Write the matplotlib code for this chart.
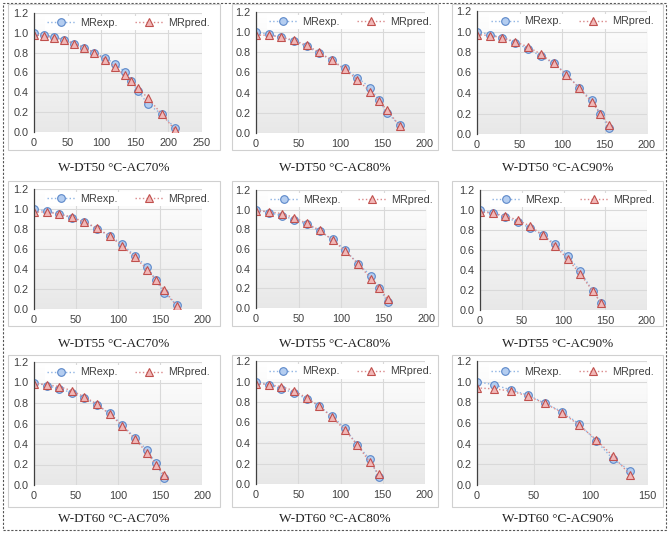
import numpy as np
import matplotlib
matplotlib.use("Agg")
import matplotlib.pyplot as plt
from matplotlib.patches import Rectangle

W, H = 669, 533
fig = plt.figure(figsize=(W/100, H/100), dpi=100)

# ---- data ----
titles = ["W-DT50 °C-AC70%", "W-DT50 °C-AC80%", "W-DT50 °C-AC90%",
          "W-DT55 °C-AC70%", "W-DT55 °C-AC80%", "W-DT55 °C-AC90%",
          "W-DT60 °C-AC70%", "W-DT60 °C-AC80%", "W-DT60 °C-AC90%"]

x1 = [0, 15, 30, 45, 60, 75, 90, 105, 120, 135, 145, 155, 170, 190, 210]
exp1 = [1.00, 0.98, 0.96, 0.93, 0.89, 0.85, 0.80, 0.75, 0.69, 0.61, 0.51, 0.41, 0.28, 0.18, 0.04]
pred1 = [0.98, 0.97, 0.95, 0.93, 0.89, 0.85, 0.80, 0.73, 0.66, 0.57, 0.51, 0.44, 0.34, 0.18, 0.02]

x2 = [0, 15, 30, 45, 60, 75, 90, 105, 120, 135, 145, 155, 170]
exp2 = [1.00, 0.98, 0.95, 0.91, 0.86, 0.79, 0.72, 0.64, 0.55, 0.45, 0.33, 0.20, 0.08]
pred2 = [0.97, 0.97, 0.95, 0.92, 0.87, 0.80, 0.72, 0.63, 0.53, 0.41, 0.32, 0.23, 0.07]

x3 = [0, 15, 30, 45, 60, 75, 90, 105, 120, 135, 145, 155]
exp3 = [1.00, 0.97, 0.94, 0.89, 0.83, 0.76, 0.69, 0.59, 0.45, 0.33, 0.20, 0.06]
pred3 = [0.97, 0.96, 0.94, 0.90, 0.85, 0.78, 0.69, 0.58, 0.45, 0.31, 0.20, 0.09]

x4 = [0, 15, 30, 45, 60, 75, 90, 105, 120, 135, 145, 155, 170]
exp4 = [1.00, 0.98, 0.95, 0.91, 0.87, 0.80, 0.73, 0.65, 0.53, 0.42, 0.29, 0.16, 0.04]
pred4 = [0.97, 0.97, 0.95, 0.92, 0.87, 0.81, 0.73, 0.63, 0.52, 0.39, 0.29, 0.19, 0.03]

x5 = [0, 15, 30, 45, 60, 75, 90, 105, 120, 135, 145, 155]
exp5 = [1.00, 0.97, 0.94, 0.90, 0.85, 0.78, 0.70, 0.59, 0.45, 0.33, 0.20, 0.06]
pred5 = [0.99, 0.98, 0.96, 0.92, 0.86, 0.79, 0.69, 0.58, 0.45, 0.30, 0.20, 0.09]

x6 = [0, 15, 30, 45, 60, 75, 90, 105, 120, 135, 145]
exp6 = [1.00, 0.97, 0.93, 0.88, 0.82, 0.75, 0.66, 0.54, 0.39, 0.19, 0.07]
pred6 = [0.98, 0.97, 0.94, 0.90, 0.84, 0.75, 0.64, 0.51, 0.36, 0.19, 0.07]

x7 = [0, 15, 30, 45, 60, 75, 90, 105, 120, 135, 145, 155]
exp7 = [1.00, 0.97, 0.94, 0.90, 0.85, 0.78, 0.70, 0.59, 0.46, 0.34, 0.21, 0.07]
pred7 = [0.99, 0.98, 0.96, 0.92, 0.86, 0.79, 0.69, 0.58, 0.45, 0.31, 0.20, 0.10]

x8 = [0, 15, 30, 45, 60, 75, 90, 105, 120, 135, 145]
exp8 = [1.00, 0.97, 0.93, 0.89, 0.83, 0.76, 0.66, 0.55, 0.38, 0.24, 0.07]
pred8 = [0.98, 0.97, 0.95, 0.91, 0.84, 0.76, 0.65, 0.53, 0.38, 0.21, 0.10]

x9 = [0, 15, 30, 45, 60, 75, 90, 105, 120, 135]
exp9 = [1.00, 0.97, 0.92, 0.87, 0.79, 0.71, 0.59, 0.43, 0.25, 0.14]
pred9 = [0.94, 0.93, 0.91, 0.86, 0.79, 0.70, 0.58, 0.44, 0.28, 0.10]

xs = [x1, x2, x3, x4, x5, x6, x7, x8, x9]
exps = [exp1, exp2, exp3, exp4, exp5, exp6, exp7, exp8, exp9]
preds = [pred1, pred2, pred3, pred4, pred5, pred6, pred7, pred8, pred9]
xmaxs = [250, 200, 200, 200, 200, 200, 200, 200, 150]
xsteps = [50, 50, 50, 50, 50, 50, 50, 50, 50]

# ---- layout (pixel coords, top-left origin) ----
areas = [(34, 202, 13, 132), (256, 425, 12, 133), (477, 647, 11, 134),
         (34, 202, 189, 309), (256, 426, 190, 308), (480, 647, 190, 310),
         (34, 202, 362, 485), (256, 425, 361, 484), (477, 647, 361, 485)]
cols_box = [(8, 220), (232, 438), (452, 663)]
rows_box = [(4, 150), (181, 326), (355, 507)]
caption_y = [168, 344, 519]

def fx(px):
    return px / W

def fy(py):
    return 1 - py / H

# outer dashed border
fig.patches.append(Rectangle((fx(3), fy(530)), fx(663), (527) / H, transform=fig.transFigure,
                             fill=False, edgecolor="#555555", linestyle=(0, (2, 1.5)),
                             linewidth=0.8, zorder=-2))

grad = np.linspace(1.0, 0.91, 100).reshape(-1, 1)
bg = np.dstack([grad, grad, grad])

for i in range(9):
    r, c = divmod(i, 3)
    bx0, bx1 = cols_box[c]
    by0, by1 = rows_box[r]
    fig.patches.append(Rectangle((fx(bx0), fy(by1)), (bx1 - bx0) / W, (by1 - by0) / H,
                                 transform=fig.transFigure, fill=False,
                                 edgecolor="#d0d0d0", linewidth=0.8, zorder=-1))
    l, rr, t, b = areas[i]
    ax = fig.add_axes([fx(l), fy(b), (rr - l) / W, (b - t) / H])
    ax.set_zorder(1)
    xmax = xmaxs[i]
    ax.imshow(bg, extent=[0, xmax, 0, 1.2], aspect="auto", origin="upper",
              zorder=0, interpolation="bilinear")
    ax.set_xlim(0, xmax)
    ax.set_ylim(0, 1.2)
    ax.set_xticks(np.arange(0, xmax + 1, xsteps[i]))
    yt = np.round(np.arange(0, 1.21, 0.2), 1)
    ax.set_yticks(yt)
    ax.set_yticklabels([f"{v:.1f}" for v in yt])
    ax.grid(True, color="#d9d9d9", linewidth=0.8, zorder=1)
    for s in ["top", "right", "bottom"]:
        ax.spines[s].set_visible(False)
    ax.spines["left"].set_color("#404040")
    ax.spines["left"].set_linewidth(0.9)
    ax.spines["left"].set_zorder(5)
    ax.tick_params(length=0, labelsize=7.8, colors="#404040", pad=4)
    for lab in ax.get_xticklabels() + ax.get_yticklabels():
        lab.set_fontfamily("Liberation Sans")
    ax.plot(xs[i], exps[i], linestyle=":", color="#8fb4e3", linewidth=1.0,
            marker="o", markersize=5.5, markerfacecolor="#b4cdf0", markeredgecolor="#5b87c9",
            markeredgewidth=0.8, label="MRexp.", zorder=3)
    ax.plot(xs[i], preds[i], linestyle=":", color="#d9888a", linewidth=1.0,
            marker="^", markersize=5.5, markerfacecolor="#f2b8b8", markeredgecolor="#c0504d",
            markeredgewidth=0.8, label="MRpred.", zorder=4)
    leg = ax.legend(loc="center", bbox_to_anchor=(0.56, 0.915), ncol=2, frameon=True,
                    handlelength=2.6, columnspacing=1.6, handletextpad=0.45,
                    borderpad=0.2, borderaxespad=0.0, fancybox=False, edgecolor="none",
                    facecolor="white", framealpha=1.0,
                    prop={"family": "Liberation Sans", "size": 7.8})
    leg.set_zorder(6)
    for txt in leg.get_texts():
        txt.set_color("#404040")
    fig.text(fx((bx0 + bx1) / 2), fy(caption_y[r]), titles[i], ha="center", va="center",
             fontsize=9.5, family="Liberation Serif", color="#222222")

fig.savefig("out.png", dpi=100)
